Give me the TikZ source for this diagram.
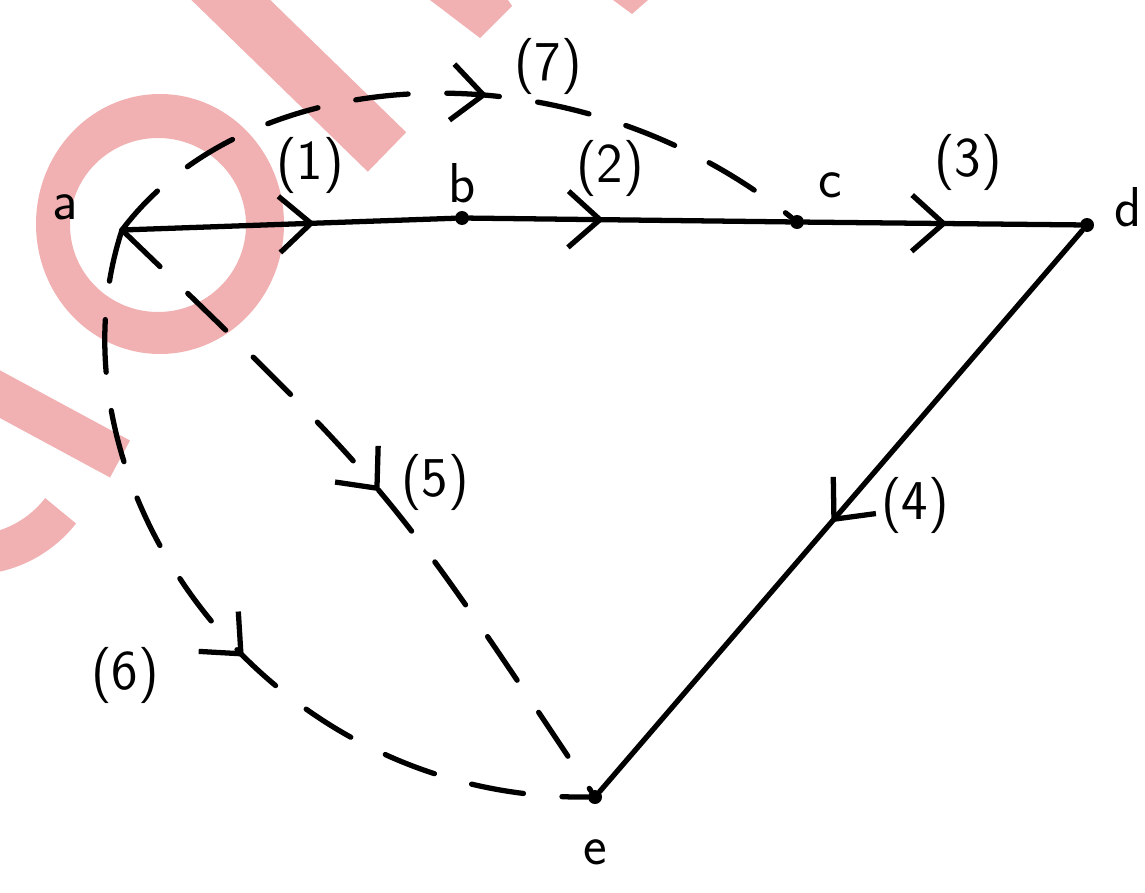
\documentclass[tikz,border=0pt]{standalone}
\usetikzlibrary{arrows.meta,decorations.markings}
\definecolor{wm}{RGB}{241,176,178}
\tikzset{
  edge/.style={line width=3pt, line cap=round, draw=black},
  dashedge/.style={edge, dash pattern=on 30pt off 22pt},
  tipmark/.style={postaction={decorate}, decoration={markings,
      mark=at position #1 with {\arrow[line width=3pt]{Straight Barb[length=18pt,width=32pt]}}}},
  vdot/.style={circle, fill=black, inner sep=0pt, minimum size=0.28cm},
  lab/.style={font=\sffamily\fontsize{32}{38}\selectfont, inner sep=0pt},
  wmband/.style={draw=wm, line cap=butt}
}
\begin{document}
\begin{tikzpicture}[x=0.02cm, y=-0.02cm]
\useasboundingbox (0,0) rectangle (1145,892);
% watermark
\fill[wm, even odd rule] (160,224) ellipse [x radius=124, y radius=130]
                          (158,225) ellipse [x radius=88, y radius=87];
\draw[wmband, line width=1.1cm] (200,-30) -- (387,152);
\draw[wmband, line width=0.84cm] (-80,351) -- (120,459);
\draw[wmband, line width=0.8cm] (60.6,510.8) arc[start angle=38, end angle=180, radius=115];
\fill[wm] (430,0) -- (508,0) -- (512,6) -- (480,38) -- cycle;
\fill[wm] (613,0) -- (648,0) -- (632,14) -- cycle;
% vertices
\coordinate (a) at (122,230);
\node[vdot] (b) at (462,218) {};
\node[vdot] (c) at (797,222) {};
\node[vdot] (d) at (1087,225) {};
\node[vdot] (e) at (595,797) {};
% edges
\draw[edge, tipmark=0.58] (a) -- (b);
\draw[edge, tipmark=0.42] (b) -- (c);
\draw[edge, tipmark=0.52] (c) -- (d);
\draw[edge, tipmark=0.52] (d) -- (e);
\draw[dashedge, tipmark=0.5] (a) .. controls (389,487) .. (e);
\draw[dashedge, tipmark=0.55] (a) .. controls (40,480) and (260,800) .. (e);
\draw[dashedge, tipmark=0.55] (a) .. controls (250,60) and (570,40) .. (c);
% labels
\node[lab] (la) at (65,207) {a};
\node[lab] (lb) at (462,183) {b};
\node[lab] (lc) at (830,185) {c};
\node[lab] (ld) at (1128,207) {d};
\node[lab] (le) at (595,852) {e};
\node[lab] (l1) at (310,165) {(1)};
\node[lab] (l2) at (610,168) {(2)};
\node[lab] (l3) at (968,162) {(3)};
\node[lab] (l4) at (915,505) {(4)};
\node[lab] (l5) at (435,482) {(5)};
\node[lab] (l6) at (125,675) {(6)};
\node[lab] (l7) at (548,66) {(7)};
\end{tikzpicture}
\end{document}
